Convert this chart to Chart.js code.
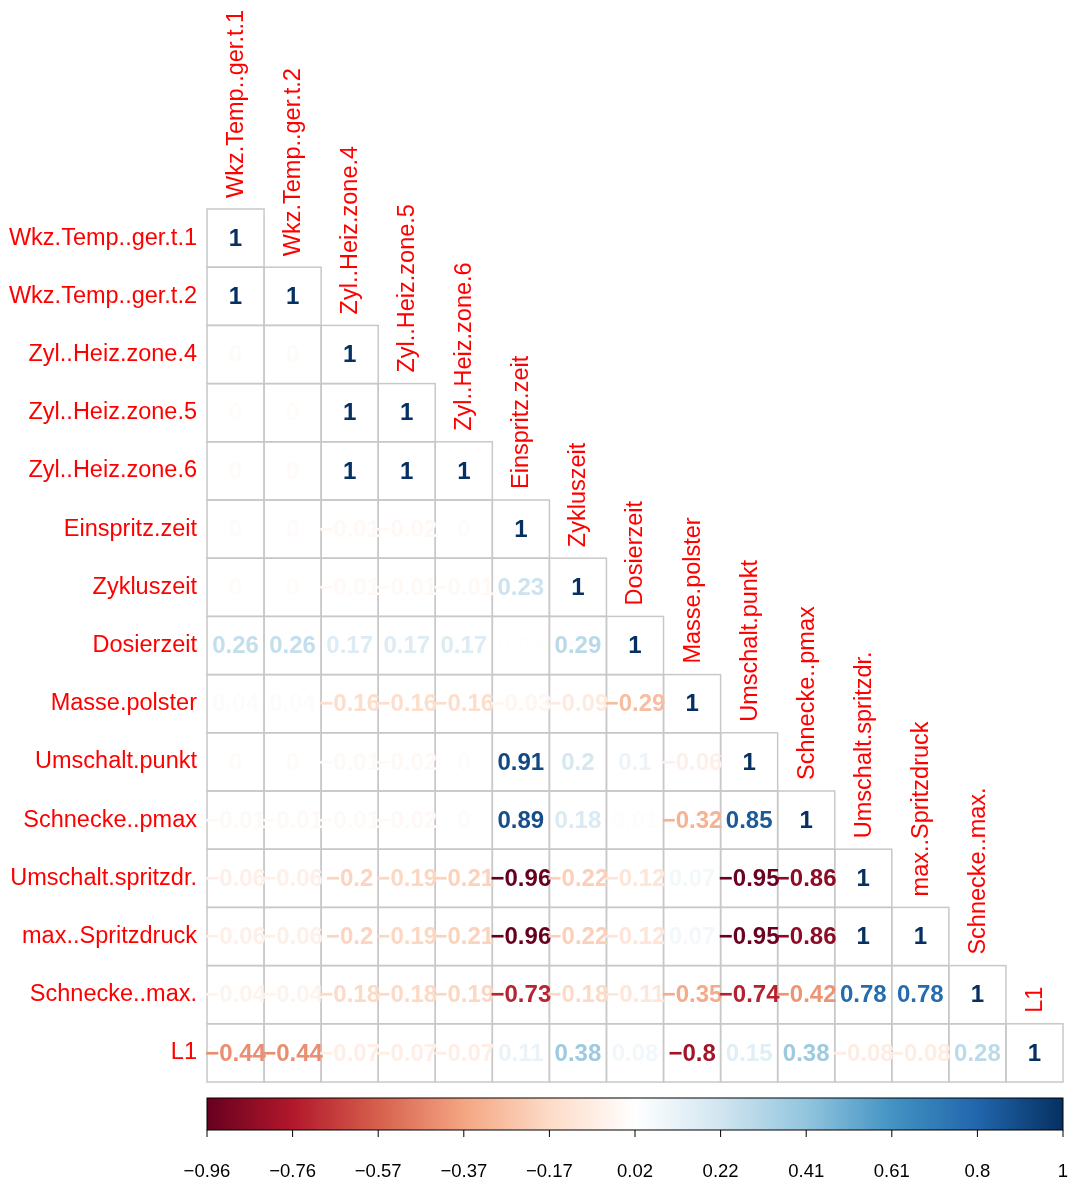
<!DOCTYPE html>
<html>
<head>
<meta charset="utf-8">
<script src="https://cdn.jsdelivr.net/npm/chart.js@4"></script>
<style>
  html, body { margin: 0; padding: 0; background: #ffffff; }
  canvas { display: block; }
</style>
</head>
<body>
<canvas id="c" width="1068" height="1180"></canvas>
<script>
// ---------- data ----------
const labels = [
  "Wkz.Temp..ger.t.1", "Wkz.Temp..ger.t.2", "Zyl..Heiz.zone.4", "Zyl..Heiz.zone.5",
  "Zyl..Heiz.zone.6", "Einspritz.zeit", "Zykluszeit", "Dosierzeit", "Masse.polster",
  "Umschalt.punkt", "Schnecke..pmax", "Umschalt.spritzdr.", "max..Spritzdruck",
  "Schnecke..max.", "L1"
];
// lower triangle of the correlation matrix, row by row (incl. diagonal)
const row0  = [1];
const row1  = [1, 1];
const row2  = [0, 0, 1];
const row3  = [0, 0, 1, 1];
const row4  = [0, 0, 1, 1, 1];
const row5  = [0, 0, -0.01, -0.02, 0, 1];
const row6  = [0, 0, -0.01, -0.01, -0.01, 0.23, 1];
const row7  = [0.26, 0.26, 0.17, 0.17, 0.17, 0.03, 0.29, 1];
const row8  = [0.04, 0.04, -0.16, -0.16, -0.16, -0.03, -0.09, -0.29, 1];
const row9  = [0, 0, -0.01, -0.02, 0, 0.91, 0.2, 0.1, -0.06, 1];
const row10 = [-0.01, -0.01, -0.01, -0.02, 0, 0.89, 0.18, 0.01, -0.32, 0.85, 1];
const row11 = [-0.06, -0.06, -0.2, -0.19, -0.21, -0.96, -0.22, -0.12, 0.07, -0.95, -0.86, 1];
const row12 = [-0.06, -0.06, -0.2, -0.19, -0.21, -0.96, -0.22, -0.12, 0.07, -0.95, -0.86, 1, 1];
const row13 = [-0.04, -0.04, -0.18, -0.18, -0.19, -0.73, -0.18, -0.11, -0.35, -0.74, -0.42, 0.78, 0.78, 1];
const row14 = [-0.44, -0.44, -0.07, -0.07, -0.07, 0.11, 0.38, 0.08, -0.8, 0.15, 0.38, -0.08, -0.08, 0.28, 1];
const rows = [row0,row1,row2,row3,row4,row5,row6,row7,row8,row9,row10,row11,row12,row13,row14];

const colorMin = -0.96;
const colorMax = 1;
const colorbarTicks = ["-0.96","-0.76","-0.57","-0.37","-0.17","0.02","0.22","0.41","0.61","0.8","1"];
const rdbu = ["#67001F","#B2182B","#D6604D","#F4A582","#FDDBC7","#FFFFFF","#D1E5F0","#92C5DE","#4393C3","#2166AC","#053061"];

// ---------- helpers ----------
function hexToRgb(h) {
  return [parseInt(h.substr(1,2),16), parseInt(h.substr(3,2),16), parseInt(h.substr(5,2),16)];
}
const rdbuRgb = rdbu.map(hexToRgb);
function colorFor(v) {
  let t = (v - colorMin) / (colorMax - colorMin);
  t = Math.max(0, Math.min(1, t));
  const p = t * (rdbuRgb.length - 1);
  const i = Math.min(Math.floor(p), rdbuRgb.length - 2);
  const f = p - i;
  const a = rdbuRgb[i], b = rdbuRgb[i+1];
  const c = a.map((x, k) => Math.round(x + (b[k] - x) * f));
  return `rgb(${c[0]},${c[1]},${c[2]})`;
}
function fmt(v) {
  return String(v).replace('-', '\u2212');
}

const points = [];
rows.forEach((r, ri) => r.forEach((v, ci) => points.push({ x: ci, y: ri, v: v })));

const FONT = '"Liberation Sans", Arial, Helvetica, sans-serif';

const corrPlugin = {
  id: 'corrPlugin',
  afterDatasetsDraw(chart) {
    const ctx = chart.ctx;
    const xs = chart.scales.x, ys = chart.scales.y;
    const pts = chart.data.datasets[0].data;
    ctx.save();
    // cell borders
    ctx.strokeStyle = '#C8C8C8';
    ctx.lineWidth = 1.5;
    pts.forEach(p => {
      const x0 = xs.getPixelForValue(p.x - 0.5), x1 = xs.getPixelForValue(p.x + 0.5);
      const y0 = ys.getPixelForValue(p.y - 0.5), y1 = ys.getPixelForValue(p.y + 0.5);
      ctx.strokeRect(x0, y0, x1 - x0, y1 - y0);
    });
    // numbers
    ctx.font = 'bold 24px ' + FONT;
    ctx.textAlign = 'center';
    ctx.textBaseline = 'middle';
    pts.forEach(p => {
      ctx.fillStyle = colorFor(p.v);
      ctx.fillText(fmt(p.v), xs.getPixelForValue(p.x), ys.getPixelForValue(p.y) + 1);
    });
    // row labels
    ctx.font = '23.5px ' + FONT;
    ctx.fillStyle = '#FF0000';
    ctx.textAlign = 'right';
    labels.forEach((lab, i) => {
      ctx.fillText(lab, xs.getPixelForValue(-0.5) - 10, ys.getPixelForValue(i));
    });
    // column labels (vertical, above diagonal cell)
    ctx.textAlign = 'left';
    labels.forEach((lab, i) => {
      ctx.save();
      ctx.translate(xs.getPixelForValue(i) + 1, ys.getPixelForValue(i - 0.5) - 11);
      ctx.rotate(-Math.PI / 2);
      ctx.fillText(lab, 0, 0);
      ctx.restore();
    });
    // colour bar
    const bx0 = xs.getPixelForValue(-0.5), bx1 = xs.getPixelForValue(14.5);
    const by0 = ys.getPixelForValue(14.5) + 16, by1 = by0 + 32;
    const g = ctx.createLinearGradient(bx0, 0, bx1, 0);
    rdbu.forEach((c, i) => g.addColorStop(i / (rdbu.length - 1), c));
    ctx.fillStyle = g;
    ctx.fillRect(bx0, by0, bx1 - bx0, by1 - by0);
    ctx.strokeStyle = '#000000';
    ctx.lineWidth = 1;
    ctx.strokeRect(bx0, by0, bx1 - bx0, by1 - by0);
    ctx.font = '18.5px ' + FONT;
    ctx.fillStyle = '#000000';
    ctx.textAlign = 'center';
    ctx.textBaseline = 'middle';
    colorbarTicks.forEach((t, i) => {
      const x = bx0 + (bx1 - bx0) * i / (colorbarTicks.length - 1);
      ctx.beginPath();
      ctx.moveTo(x, by1);
      ctx.lineTo(x, by1 + 7);
      ctx.stroke();
      ctx.fillText(t.replace('-', '\u2212'), x, by1 + 42);
    });
    ctx.restore();
  }
};

new Chart(document.getElementById('c'), {
  type: 'scatter',
  data: { datasets: [{ data: points, pointRadius: 0, pointHoverRadius: 0 }] },
  options: {
    responsive: false,
    animation: false,
    events: [],
    layout: { padding: { left: 207, right: 5, top: 209, bottom: 98 } },
    plugins: { legend: { display: false }, tooltip: { enabled: false } },
    scales: {
      x: { type: 'linear', min: -0.5, max: 14.5, display: false },
      y: { type: 'linear', min: -0.5, max: 14.5, reverse: true, display: false }
    }
  },
  plugins: [corrPlugin]
});
</script>
</body>
</html>
